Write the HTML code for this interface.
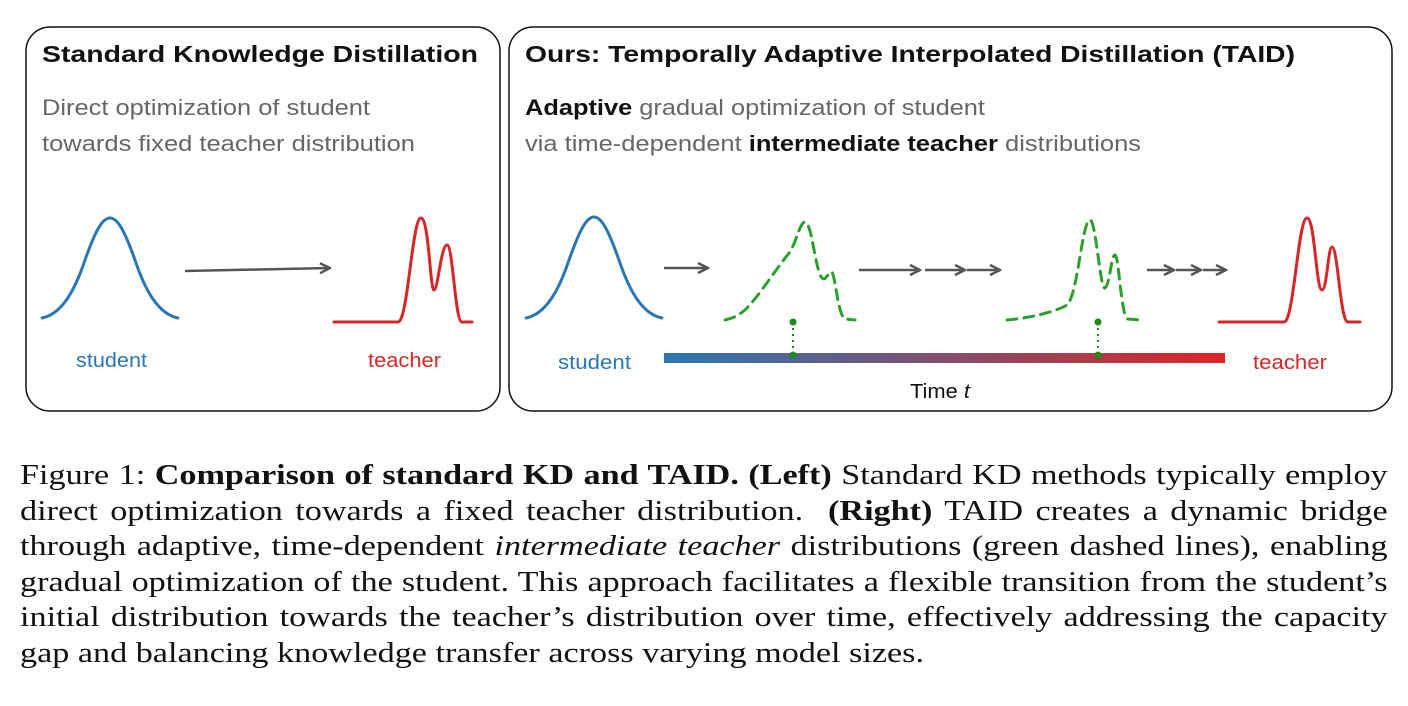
<!DOCTYPE html>
<html><head><meta charset="utf-8"><style>
body{margin:0;width:1408px;height:706px;background:#fff;position:relative;overflow:hidden;font-family:"Liberation Sans",sans-serif}
.cap{position:absolute;left:20px;width:1121px;font-family:"Liberation Serif",serif;font-size:28px;color:#111;transform:scaleX(1.22);transform-origin:0 0}
.cap div{height:35.5px;line-height:35.5px;text-align:justify;text-align-last:justify;white-space:nowrap}
.cap div.last{text-align-last:left}
</style></head><body>
<svg width="1408" height="430" style="position:absolute;left:0;top:0">
<defs>
<linearGradient id="g" x1="0" x2="1"><stop offset="0" stop-color="#2a77b4"/><stop offset="1" stop-color="#dc2626"/></linearGradient>
<marker id="ah" viewBox="0 0 10 10" refX="9" refY="5" markerWidth="5" markerHeight="5" orient="auto"><path d="M1,1 L9,5 L1,9" fill="none" stroke="#555" stroke-width="2"/></marker>
</defs>
<rect x="26" y="27" width="474" height="384" rx="24" fill="none" stroke="#111" stroke-width="1.5"/>
<rect x="509" y="27" width="883" height="384" rx="24" fill="none" stroke="#111" stroke-width="1.5"/>
<text x="42" y="62" font-size="23" font-weight="bold" fill="#111" textLength="436" lengthAdjust="spacingAndGlyphs">Standard Knowledge Distillation</text>
<text x="42" y="115" font-size="22" fill="#666" textLength="328" lengthAdjust="spacingAndGlyphs">Direct optimization of student</text>
<text x="42" y="151" font-size="22" fill="#666" textLength="373" lengthAdjust="spacingAndGlyphs">towards fixed teacher distribution</text>
<text x="525" y="62" font-size="23" font-weight="bold" fill="#111" textLength="770" lengthAdjust="spacingAndGlyphs">Ours: Temporally Adaptive Interpolated Distillation (TAID)</text>
<text x="525" y="115" font-size="22" fill="#666" textLength="460" lengthAdjust="spacingAndGlyphs"><tspan font-weight="bold" fill="#111">Adaptive</tspan> gradual optimization of student</text>
<text x="525" y="151" font-size="22" fill="#666" textLength="616" lengthAdjust="spacingAndGlyphs">via time-dependent <tspan font-weight="bold" fill="#111">intermediate teacher</tspan> distributions</text>
<g fill="none" stroke-width="3" stroke-linecap="round">
<path stroke="#2a77b4" d="M42,318 C62,314 75,290 85,260 C95,232 102,218 110,218 C118,218 125,232 135,260 C145,290 158,314 178,318"/>
<path stroke="#d62728" d="M334,322 L398,322 C408,322 412,218 421,218 C429,218 430,290 434,290 C438,290 441,245 447,245 C453,245 455,322 462,322 L472,322"/>
<path stroke="#2a77b4" d="M526,318 C546,314 559,290 569,260 C579,232 586,217 594,217 C602,217 609,232 619,260 C629,290 642,314 662,318"/>
<path stroke="#d62728" d="M1219,322 L1284,322 C1294,322 1298,218 1307,218 C1315,218 1316,290 1322,290 C1327,290 1328,247 1332,247 C1338,247 1340,322 1348,322 L1360,322"/>
<path stroke="#2ca02c" stroke-dasharray="10,7" d="M725,320 C735,318 740,314 745,310 C760,295 775,270 790,252 C797,240 800,222 805,222 C812,222 815,270 822,278 C826,282 829,270 832,272 C836,280 838,315 845,319 L855,320"/>
<path stroke="#2ca02c" stroke-dasharray="10,7" d="M1007,320 C1030,318 1055,312 1067,305 C1078,295 1082,220 1090,220 C1096,220 1100,290 1105,288 C1110,285 1111,255 1115,255 C1119,255 1121,318 1128,319 L1140,320"/>
</g>
<g stroke="#555" stroke-width="2.5" marker-end="url(#ah)">
<line x1="185" y1="271" x2="330" y2="268"/>
<line x1="664" y1="268" x2="708" y2="268"/>
<line x1="859" y1="270" x2="920" y2="270"/>
<line x1="925" y1="270" x2="965" y2="270"/>
<line x1="967" y1="270" x2="1000" y2="270"/>
<line x1="1147" y1="270" x2="1174" y2="270"/>
<line x1="1176" y1="270" x2="1201" y2="270"/>
<line x1="1203" y1="270" x2="1226" y2="270"/>
</g>
<rect x="664" y="353" width="561" height="10" fill="url(#g)"/>
<g stroke="#1a8c1a" stroke-width="2" stroke-dasharray="2,4">
<line x1="793" y1="322" x2="793" y2="355"/><line x1="1098" y1="322" x2="1098" y2="355"/>
</g>
<g fill="#1a8c1a">
<circle cx="793" cy="322" r="3.5"/><circle cx="793" cy="355" r="3.5"/>
<circle cx="1098" cy="322" r="3.5"/><circle cx="1098" cy="355" r="3.5"/>
</g>
<text x="76" y="367" font-size="20" fill="#2a77b4" textLength="71" lengthAdjust="spacingAndGlyphs">student</text>
<text x="368" y="367" font-size="20" fill="#d62728" textLength="73" lengthAdjust="spacingAndGlyphs">teacher</text>
<text x="558" y="369" font-size="20" fill="#2a77b4" textLength="73" lengthAdjust="spacingAndGlyphs">student</text>
<text x="1253" y="369" font-size="20" fill="#d62728" textLength="74" lengthAdjust="spacingAndGlyphs">teacher</text>
<text x="910" y="398" font-size="20" fill="#111" textLength="60" lengthAdjust="spacingAndGlyphs">Time <tspan font-style="italic">t</tspan></text>
</svg>
<div class="cap" style="top:458px">
<div>Figure 1: <b>Comparison of standard KD and TAID. (Left)</b> Standard KD methods typically employ</div>
<div>direct optimization towards a fixed teacher distribution. &nbsp;<b>(Right)</b> TAID creates a dynamic bridge</div>
<div>through adaptive, time-dependent <i>intermediate teacher</i> distributions (green dashed lines), enabling</div>
<div>gradual optimization of the student. This approach facilitates a flexible transition from the student’s</div>
<div>initial distribution towards the teacher’s distribution over time, effectively addressing the capacity</div>
<div class="last">gap and balancing knowledge transfer across varying model sizes.</div>
</div>
</body></html>
